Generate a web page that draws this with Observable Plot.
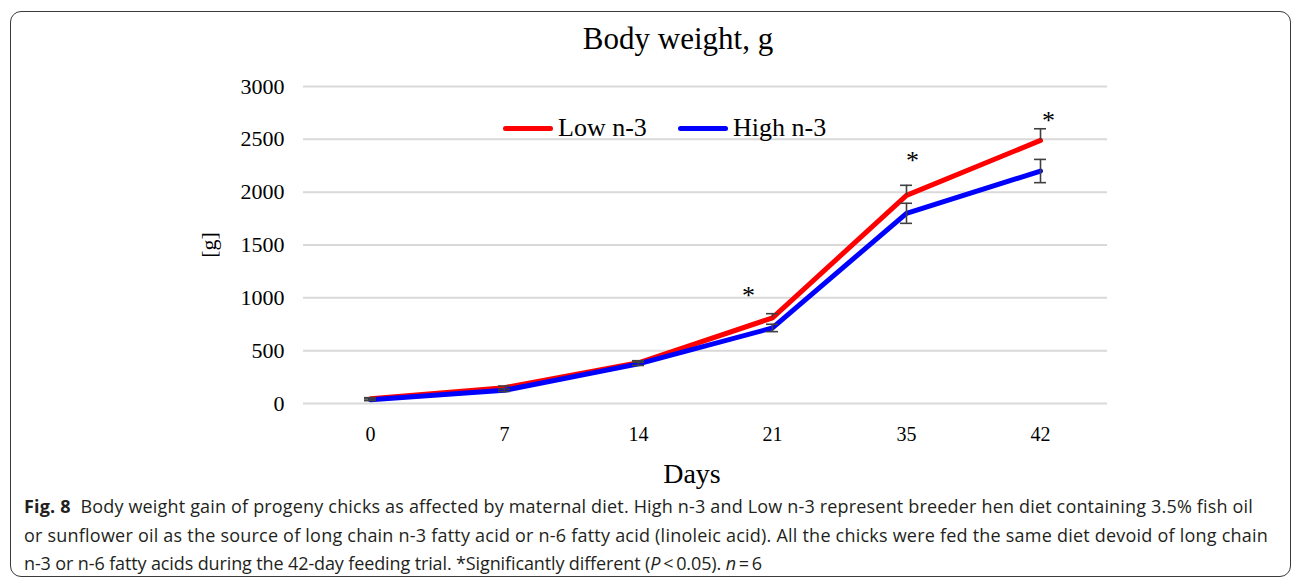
<!DOCTYPE html>
<html><head><meta charset="utf-8">
<script src="https://cdn.jsdelivr.net/npm/d3@7"></script>
<script src="https://cdn.jsdelivr.net/npm/@observablehq/plot@0.6"></script>
<style>
html,body{margin:0;padding:0;background:#fff;}
body{width:1293px;height:580px;overflow:hidden;position:relative;font-family:"Liberation Serif","Times New Roman",serif;color:#000;}
#frame{position:absolute;left:10px;top:11px;width:1281px;height:566px;border:1.5px solid #3a3a3a;border-radius:11px;box-sizing:border-box;}
#chart{position:absolute;left:0;top:0;}
#title{position:absolute;left:478px;width:400px;top:23px;text-align:center;font-size:31px;line-height:31px;white-space:nowrap;}
#xlabel{position:absolute;left:592px;width:200px;top:460px;text-align:center;font-size:28px;line-height:28px;}
.leg{position:absolute;font-size:26px;line-height:26px;white-space:nowrap;top:115px;}
.legline{position:absolute;height:5px;border-radius:3px;top:126px;}
#caption{position:absolute;left:24px;top:492px;font-family:"Open Sans","Noto Sans",sans-serif;font-size:18px;line-height:28.5px;color:#231f20;}
#caption .ln{white-space:nowrap;display:block;}
#caption .ln span.m{display:inline-block;}
</style>
</head><body>
<div id="frame"></div>
<div id="chart"></div>
<div id="title">Body weight, g</div>
<div class="legline" style="left:503px;width:50px;background:#ff0000"></div>
<div class="leg" style="left:558px">Low n-3</div>
<div class="legline" style="left:678px;width:50px;background:#0000ff"></div>
<div class="leg" style="left:733px">High n-3</div>
<div id="xlabel">Days</div>
<div id="caption">
<div class="ln" data-target="1229"><span class="m"><b>Fig. 8</b>&nbsp; Body weight gain of progeny chicks as affected by maternal diet. High n-3 and Low n-3 represent breeder hen diet containing 3.5% fish oil</span></div>
<div class="ln" data-target="1244"><span class="m">or sunflower oil as the source of long chain n-3 fatty acid or n-6 fatty acid (linoleic acid). All the chicks were fed the same diet devoid of long chain</span></div>
<div class="ln" data-target="738"><span class="m">n-3 or n-6 fatty acids during the 42-day feeding trial. *Significantly different (<i>P</i>&thinsp;&lt;&thinsp;0.05). <i>n</i>&thinsp;=&thinsp;6</span></div>
</div>
<script>
// ---- data ----
const days = ["0", "7", "14", "21", "35", "42"];
const seriesNames = ["Low n-3", "High n-3"];
const seriesColors = ["#ff0000", "#0000ff"];
const lowN3 = [45, 150, 385, 810, 1970, 2490];
const highN3 = [35, 125, 375, 715, 1800, 2200];
const lowErr = [10, 15, 20, 40, 95, 110];
const highErr = [8, 12, 15, 35, 95, 110];
const yTicks = [0, 500, 1000, 1500, 2000, 2500, 3000];
const sigDays = ["21", "35", "42"];
const sigY = [1060, 2340, 2710];
const sigDx = [-24, 6, 8];

// ---- build tables ----
const rows = [];
days.forEach((d, i) => {
  rows.push({day: d, series: seriesNames[0], value: lowN3[i], lo: lowN3[i], hi: lowN3[i] + lowErr[i]});
  rows.push({day: d, series: seriesNames[1], value: highN3[i], lo: highN3[i] - highErr[i], hi: highN3[i] + highErr[i]});
});
const sig = sigDays.map((d, i) => ({day: d, y: sigY[i], dx: sigDx[i]}));
const low = rows.filter(r => r.series === seriesNames[0]);
const high = rows.filter(r => r.series === seriesNames[1]);
const lowCaps = low.map(r => ({day: r.day, y: r.hi}));
const highCaps = high.flatMap(r => [{day: r.day, y: r.lo}, {day: r.day, y: r.hi}]);

const errColor = "#404040";
const plot = Plot.plot({
  width: 1293,
  height: 490,
  marginLeft: 303,
  marginRight: 186,
  marginTop: 86,
  marginBottom: 87,
  style: {fontFamily: "Liberation Serif, Times New Roman, serif", fontSize: "22px", color: "#000", background: "transparent", overflow: "visible"},
  x: {type: "point", domain: days, padding: 0.5},
  y: {domain: [0, 3000]},
  color: {domain: seriesNames, range: seriesColors},
  marks: [
    Plot.ruleY(yTicks, {stroke: "#d9d9d9", strokeWidth: 2}),
    Plot.axisY({ticks: yTicks, tickFormat: d => String(d), tickSize: 0, tickPadding: 19, fontSize: 22, label: "[g]", labelAnchor: "center", labelArrow: "none", labelOffset: 103}),
    Plot.axisX({tickSize: 0, tickPadding: 23, fontSize: 20, label: null}),
    Plot.line(low, {x: "day", y: "value", stroke: "series", strokeWidth: 5, strokeLinejoin: "round", strokeLinecap: "round"}),
    Plot.line(high, {x: "day", y: "value", stroke: "series", strokeWidth: 5, strokeLinejoin: "round", strokeLinecap: "round"}),
    Plot.ruleX(low, {x: "day", y1: "value", y2: "hi", stroke: errColor, strokeWidth: 1.6}),
    Plot.ruleY(lowCaps, {x1: "day", x2: "day", y: "y", stroke: errColor, strokeWidth: 1.6, insetLeft: -6, insetRight: -6}),
    Plot.ruleX(high, {x: "day", y1: "lo", y2: "hi", stroke: errColor, strokeWidth: 1.6}),
    Plot.ruleY(highCaps, {x1: "day", x2: "day", y: "y", stroke: errColor, strokeWidth: 1.6, insetLeft: -6, insetRight: -6}),
    Plot.text(sig, {x: "day", y: "y", text: () => "*", fontSize: 26, lineAnchor: "middle", dy: 4})
  ]
});
document.getElementById("chart").appendChild(plot);
// apply per-asterisk horizontal offsets
d3.select(plot).selectAll("g[aria-label='text'] text").each(function(_, i) {
  const t = d3.select(this);
  const tr = t.attr("transform") || "";
  t.attr("transform", tr + ` translate(${sig[i].dx},0)`);
});

// fit caption lines to their measured widths via letter spacing
document.querySelectorAll("#caption .ln").forEach(ln => {
  const span = ln.querySelector(".m");
  const target = +ln.dataset.target;
  const w = span.getBoundingClientRect().width;
  const n = span.textContent.length;
  span.style.letterSpacing = ((target - w) / n) + "px";
});
</script>
</body></html>
